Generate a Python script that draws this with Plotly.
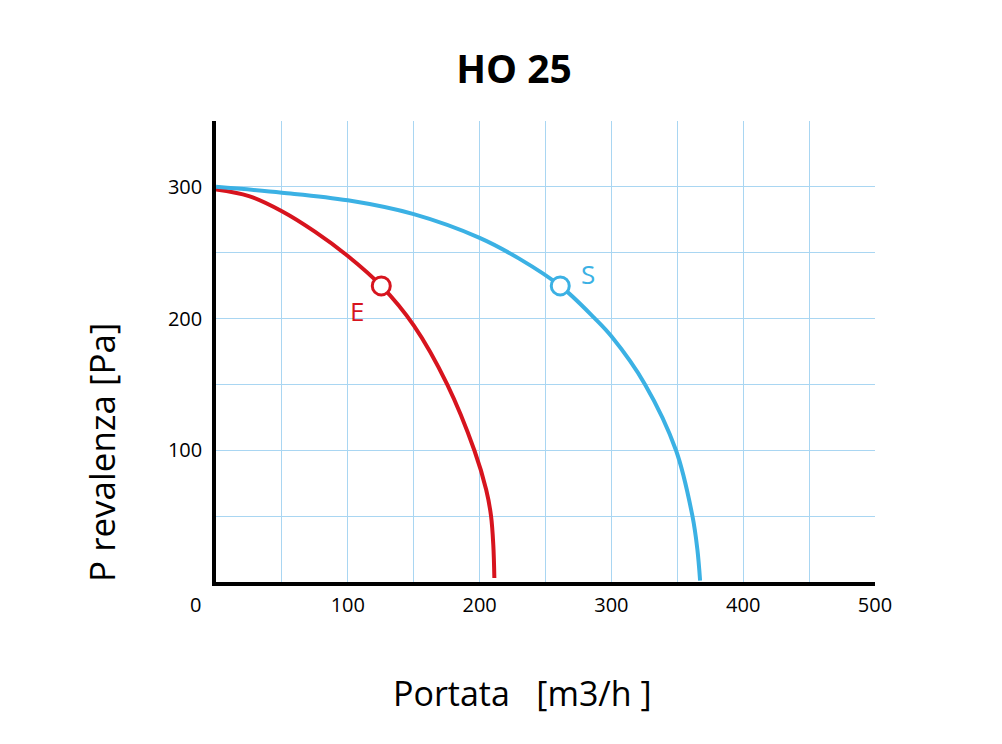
import plotly.graph_objects as go

# ---- data ----
title_text = "HO 25"
x_title = "Portata\u00a0\u00a0\u00a0[m3/h\u00a0]"
y_title = "P revalenza [Pa]"

E_x = [0, 25, 50, 75, 100, 125.4, 150, 175.4, 196, 205, 208.7, 210.4, 211.2]
E_y = [298, 293, 281.5, 266, 247.5, 224.8, 194.8, 150, 100, 70, 50, 28, 3]

S_x = [0, 50, 100, 150, 200, 230, 261.2, 287, 300, 325.5, 349, 361.5, 365.2, 367.3]
S_y = [300, 295.6, 289.8, 279.3, 261.3, 245.5, 224.8, 200.5, 186.5, 150, 100, 50, 25, 1]

E_point = (125.4, 224.8)
S_point = (261.2, 224.8)
E_label_pos = (107, 205.5)
S_label_pos = (282.5, 233.5)

x_grid = [0, 50, 100, 150, 200, 250, 300, 350, 400, 450, 500]
x_ticktext = ["", "", "100", "", "200", "", "300", "", "400", "", "500"]
y_grid = [0, 50, 100, 150, 200, 250, 300, 350]
y_ticktext = ["", "", "100", "", "200", "", "300", ""]

RED = "#d7141e"
BLUE = "#3bb1e4"
GRID = "#a9d6f2"
FONT = "Open Sans"

fig = go.Figure()
fig.add_trace(go.Scatter(x=E_x, y=E_y, mode="lines", line=dict(color=RED, width=4, shape="spline", smoothing=1.0),
                         hoverinfo="skip", showlegend=False))
fig.add_trace(go.Scatter(x=S_x, y=S_y, mode="lines", line=dict(color=BLUE, width=4, shape="spline", smoothing=1.0),
                         hoverinfo="skip", showlegend=False))
fig.add_trace(go.Scatter(x=[E_point[0]], y=[E_point[1]], mode="markers",
                         marker=dict(symbol="circle", size=18, color="white", line=dict(color=RED, width=3)),
                         showlegend=False))
fig.add_trace(go.Scatter(x=[S_point[0]], y=[S_point[1]], mode="markers",
                         marker=dict(symbol="circle", size=18, color="white", line=dict(color=BLUE, width=3)),
                         showlegend=False))

L, R, T, B = 216, 127, 121, 162
W, H = 1002, 744
pw, ph = W - L - R, H - T - B

def fig_to_plot(px, py):
    return (px - L) / pw, 1 - (py - T) / ph

xt = fig_to_plot(522, 693)
yt = fig_to_plot(101, 453)

annotations = [
    dict(x=E_label_pos[0], y=E_label_pos[1], xref="x", yref="y", text="E", showarrow=False,
         font=dict(family=FONT, size=26, color=RED)),
    dict(x=S_label_pos[0], y=S_label_pos[1], xref="x", yref="y", text="S", showarrow=False,
         font=dict(family=FONT, size=26, color=BLUE)),
    dict(x=0, y=0, xref="x", yref="y", text="0", showarrow=False, xshift=-21, yshift=-22,
         font=dict(family=FONT, size=20, color="black")),
    dict(x=xt[0], y=xt[1], xref="paper", yref="paper", text=x_title, showarrow=False,
         xanchor="center", yanchor="middle", font=dict(family=FONT, size=34, color="black")),
    dict(x=yt[0], y=yt[1], xref="paper", yref="paper", text=y_title, showarrow=False,
         textangle=-90, xanchor="center", yanchor="middle", font=dict(family=FONT, size=35, color="black")),
]

fig.update_layout(
    width=W, height=H,
    margin=dict(l=L, r=R, t=T, b=B),
    paper_bgcolor="white", plot_bgcolor="white",
    title=dict(text="<b>" + title_text + "</b>", x=514 / W, xref="container", xanchor="center",
               y=1 - 69 / H, yanchor="middle", yref="container",
               font=dict(family=FONT, size=39, color="black")),
    annotations=annotations,
    font=dict(family=FONT, color="black"),
)

fig.update_xaxes(range=[0, 500], tickmode="array", tickvals=x_grid, ticktext=x_ticktext,
                 showgrid=True, gridcolor=GRID, gridwidth=1, zeroline=False,
                 showline=True, linecolor="black", linewidth=3.5, ticks="", ticklabelstandoff=2,
                 tickfont=dict(family=FONT, size=20, color="black"))
fig.update_yaxes(range=[0, 350], tickmode="array", tickvals=y_grid, ticktext=y_ticktext,
                 showgrid=True, gridcolor=GRID, gridwidth=1, zeroline=False,
                 showline=True, linecolor="black", linewidth=3.5, ticks="", ticklabelstandoff=6,
                 tickfont=dict(family=FONT, size=20, color="black"))

fig.write_html("out.html")
